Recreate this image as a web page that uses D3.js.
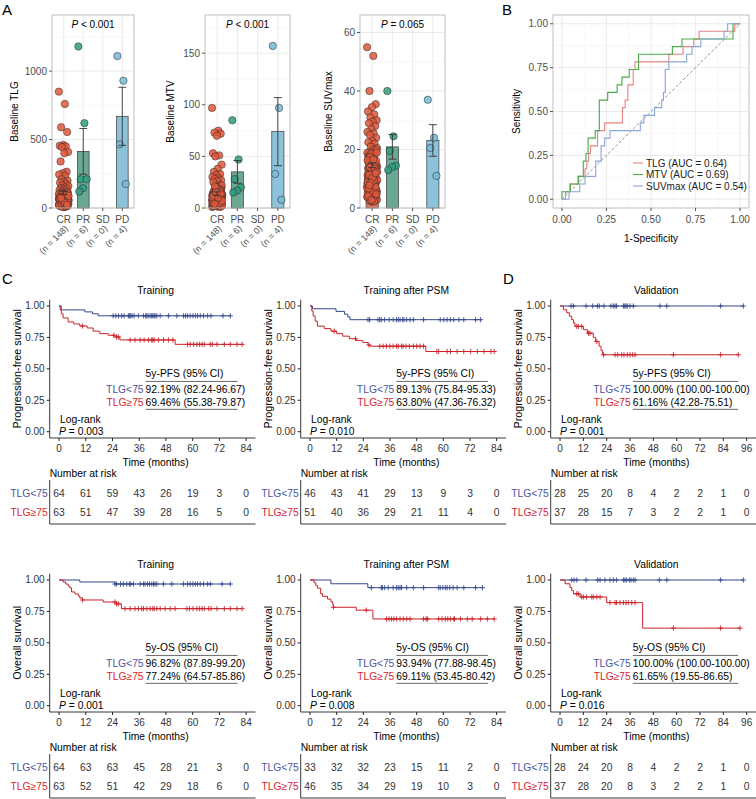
<!DOCTYPE html>
<html lang="en">
<head>
<meta charset="UTF-8">
<style>
  body { margin: 0; background: #fff; }
  svg { display: block; font-family: "Liberation Sans", Arial, sans-serif; }
</style>
<script src="https://d3js.org/d3.v7.min.js"></script>
</head>
<body>
<svg id="fig" width="756" height="799"></svg>
<script>
// ---------- Panel A data ----------
const groups = ["CR", "PR", "SD", "PD"];
const groupN = [148, 6, 0, 4];

const tlgCR = [850, 760, 590, 555, 460, 455, 450, 445, 410, 400, 340, 265, 255, 245, 235, 210, 200, 190, 185, 175,
  165, 160, 150, 145, 140, 135, 130, 125, 120, 115,
  12, 45, 88, 23, 67, 104, 31, 56, 79, 18, 95, 41, 62, 8, 73, 36, 110, 27, 54, 86,
  15, 69, 48, 99, 33, 58, 21, 77, 44, 102, 64, 29, 91, 52, 11, 83, 38, 71, 25, 60,
  107, 47, 19, 75, 35, 93, 57, 14, 81, 42, 66, 98, 28, 53, 85, 9, 70, 40, 62, 101,
  22, 78, 46, 90, 34, 59, 17, 84, 50, 68, 105, 37, 63, 26, 88, 44, 72, 13, 97, 55,
  30, 80, 49, 108, 24, 65, 39, 92, 58, 16, 74, 43, 96, 20, 61, 87, 32, 51, 76, 10,
  100, 48, 27, 82, 57, 6, 69, 94, 35, 63, 45, 79, 18, 55, 89, 38, 72, 24];
const tlgPR = [1180, 620, 210, 210, 145, 120];
const tlgPD = [1110, 930, 465, 175];
const tlgMean = [110, 414, null, 670];
const tlgSE = [12, 167, null, 212];

const mtvCR = [97, 75, 73, 72, 70, 53, 51, 50, 42, 38, 35, 33, 32, 30, 29, 28, 27, 26, 25,
  3, 8, 12, 5, 17, 9, 2, 14, 6, 11, 20, 7, 4, 15, 10, 1, 13, 8, 18, 5,
  9, 22, 6, 11, 3, 16, 7, 12, 4, 19, 10, 2, 14, 8, 21, 5, 13, 9, 6, 17,
  4, 11, 7, 15, 3, 18, 9, 12, 5, 8, 16, 6, 10, 2, 13, 7, 20, 4, 11, 9,
  5, 14, 8, 19, 3, 10, 6, 12, 1, 15, 7, 11, 4, 17, 9, 2, 13, 6, 22, 8,
  12, 5, 16, 3, 10, 7, 14, 9, 4, 18, 6, 13, 8, 2, 11, 20, 5, 15, 7, 10,
  3, 9, 17, 6, 12, 4, 14, 8, 19, 5, 11, 7, 2, 16, 9, 13, 4, 10, 6, 21,
  8, 3, 12, 5, 15, 7, 10, 4, 14];
const mtvPR = [85, 47, 28, 20, 17, 15];
const mtvPD = [157, 97, 33, 8];
const mtvMean = [14, 35, null, 74];
const mtvSE = [1.6, 11, null, 33];

const suvCR = [55, 52, 40, 35.5, 34.5, 33, 32, 31, 30, 29.5, 29, 28, 27, 26, 25.5, 25, 24, 23, 22.5, 22, 21, 20.5, 20,
  3.5, 8.2, 12.4, 5.1, 17.3, 9.6, 2.8, 14.7, 6.3, 11.2, 18.5, 7.4, 4.6, 15.2, 10.1, 2.2, 13.5, 8.9, 16.8, 5.7,
  9.3, 19.1, 6.6, 11.8, 3.9, 16.2, 7.7, 12.9, 4.3, 18.2, 10.6, 2.5, 14.1, 8.4, 17.9, 5.4, 13.2, 9.8, 6.9, 15.8,
  4.8, 11.5, 7.1, 15.5, 3.2, 18.8, 9.1, 12.6, 5.9, 8.7, 16.5, 6.2, 10.4, 2.9, 13.8, 7.5, 19.4, 4.1, 11.1, 9.5,
  5.3, 14.4, 8.1, 17.6, 3.6, 10.9, 6.8, 12.2, 2.6, 15.1, 7.9, 11.7, 4.4, 16.9, 9.2, 3.1, 13.6, 6.5, 18.6, 8.5,
  12.8, 5.6, 16.1, 3.4, 10.2, 7.2, 14.9, 9.7, 4.9, 17.2, 6.1, 13.1, 8.8, 2.3, 11.4, 19.8, 5.2, 15.4, 7.6, 10.7,
  3.8, 9.9, 17.4, 6.4, 12.1, 4.2, 14.3, 8.3, 18.9, 5.8, 11.3, 7.3, 2.7, 16.3, 9.4, 13.9, 4.7, 10.3, 6.7,
  13.4, 8.6, 12.3, 16.6, 7.8, 11.9];
const suvPR = [40, 24.5, 19.5, 14.5, 14, 13];
const suvPD = [37, 24, 20.5, 11];
const suvMean = [14.6, 20.9, null, 23.1];
const suvSE = [0.8, 4.2, null, 5.4];

// ---------- Panel B data (1-specificity, sensitivity) ----------
const rocTLG = [[0,0],[0.02,0],[0.02,0.043],[0.045,0.043],[0.045,0.087],[0.09,0.087],[0.09,0.13],[0.13,0.13],[0.13,0.174],
  [0.14,0.174],[0.14,0.217],[0.15,0.217],[0.15,0.261],[0.16,0.261],[0.16,0.304],[0.2,0.304],[0.2,0.391],[0.24,0.391],
  [0.24,0.435],[0.34,0.435],[0.34,0.522],[0.355,0.522],[0.355,0.565],[0.37,0.565],[0.37,0.652],[0.4,0.652],[0.4,0.739],
  [0.41,0.739],[0.41,0.783],[0.6,0.783],[0.6,0.826],[0.68,0.826],[0.68,0.87],[0.74,0.87],[0.74,0.913],[0.77,0.913],
  [0.77,0.957],[0.97,0.957],[0.97,1],[1,1]];
const rocMTV = [[0,0],[0,0.043],[0.047,0.043],[0.047,0.087],[0.094,0.087],[0.094,0.13],[0.12,0.13],[0.12,0.217],[0.135,0.217],
  [0.135,0.261],[0.147,0.261],[0.147,0.348],[0.187,0.348],[0.187,0.391],[0.21,0.391],[0.21,0.565],[0.257,0.565],[0.257,0.609],
  [0.31,0.609],[0.31,0.652],[0.337,0.652],[0.337,0.696],[0.378,0.696],[0.378,0.739],[0.43,0.739],[0.43,0.826],[0.62,0.826],
  [0.62,0.87],[0.674,0.87],[0.674,0.913],[0.96,0.913],[0.96,1],[1,1]];
const rocSUV = [[0,0],[0.04,0],[0.04,0.043],[0.1,0.043],[0.1,0.087],[0.13,0.087],[0.13,0.13],[0.19,0.13],[0.19,0.217],
  [0.22,0.217],[0.22,0.304],[0.24,0.304],[0.24,0.348],[0.27,0.348],[0.27,0.391],[0.44,0.391],[0.44,0.435],[0.46,0.435],
  [0.46,0.478],[0.52,0.478],[0.52,0.522],[0.56,0.522],[0.56,0.565],[0.57,0.565],[0.57,0.609],[0.58,0.609],[0.58,0.739],
  [0.6,0.739],[0.6,0.783],[0.7,0.783],[0.7,0.826],[0.73,0.826],[0.73,0.87],[0.78,0.87],[0.78,0.913],[0.91,0.913],
  [0.91,0.957],[0.93,0.957],[0.93,1],[1,1]];
const rocNames = ["TLG (AUC = 0.64)", "MTV (AUC = 0.69)", "SUVmax (AUC = 0.54)"];

// ---------- Panels C/D data: steps are [month, survival], censor marks in months ----------
const pfsTrainLowSteps = [[1, 0.969], [11.6, 0.953], [15, 0.938], [17.6, 0.922]];
const pfsTrainLowCensor = [24.3, 25.5, 26.7, 28.1, 29.2, 31.1, 31.6, 32.2, 32.8, 33.7, 35.6, 37.9, 38.9, 39.4, 40.0, 40.9, 41.6,
  42.1, 42.7, 43.1, 43.9, 45.4, 49.1, 52.9, 55.9, 56.8, 57.7, 58.9, 60.1, 61.2, 62.2, 63.4, 64.9, 66.7, 68.2, 73.6, 76.9];
const pfsTrainHighSteps = [[0.5, 0.968], [1, 0.937], [1.8, 0.905], [4.1, 0.873], [6.6, 0.857], [9.3, 0.841], [12.6, 0.825],
  [15.3, 0.80], [18.3, 0.78], [22.1, 0.767], [25.1, 0.754], [27.3, 0.73], [52.1, 0.695]];
const pfsTrainHighCensor = [10.5, 24.6, 25.8, 26.6, 31.9, 34.1, 36.4, 38.2, 40.1, 41.6, 42.1, 42.7, 44.6, 46.9, 49.1, 51.1,
  57.7, 58.9, 60.4, 61.9, 63.1, 64.2, 65.2, 67.9, 68.8, 70.9, 74.2, 76.9, 79.9, 82.2];

const pfsPsmLowSteps = [[1.1, 0.978], [11.7, 0.957], [15.5, 0.935], [17, 0.913], [18, 0.891]];
const pfsPsmLowCensor = [26.1, 26.8, 30.6, 31.4, 32.1, 33.6, 35.6, 37.4, 38.9, 39.7, 40.5, 41.7, 42.3, 43.5, 45, 46.5, 51.1,
  58.6, 60.2, 61.7, 63.2, 64.7, 67, 69.2, 74.5, 76.8];
const pfsPsmHighSteps = [[0.8, 0.96], [1.4, 0.92], [2.3, 0.88], [3.3, 0.84], [6.4, 0.82], [9.4, 0.80], [12, 0.78], [14.7, 0.76],
  [17.7, 0.74], [20.8, 0.725], [23.8, 0.71], [26.1, 0.69], [27.1, 0.68], [52.1, 0.638]];
const pfsPsmHighCensor = [10.9, 20.5, 26.5, 31.4, 32.9, 34.4, 35.9, 37.4, 38.9, 39.7, 41.2, 41.9, 43.2, 44.7, 46.5, 48, 49.5,
  51.1, 57.1, 57.9, 61.7, 63.2, 66.2, 69.2, 72.3, 75.3, 78.3, 81.4, 82.9];

const pfsValLowSteps = [];
const pfsValLowCensor = [5.7, 6.9, 13.4, 16.8, 19.2, 20.2, 22.6, 26.2, 27.4, 28.3, 29.1, 32.6, 33.3, 33.9, 34.6, 36, 37.7,
  51.4, 54.9, 82.6, 94.3];
const pfsValHighSteps = [[1.7, 0.97], [3.4, 0.946], [4.8, 0.919], [6, 0.892], [6.9, 0.865], [7.7, 0.838], [12, 0.811],
  [14.1, 0.784], [17.1, 0.75], [18.3, 0.717], [20.1, 0.68], [21.1, 0.645], [21.9, 0.612]];
const pfsValHighCensor = [8.6, 9.4, 11.1, 14.6, 15.4, 18.9, 22.4, 28.3, 29.7, 31.7, 32.9, 34.6, 36, 37.4, 38.6, 58.3, 82.6, 91.7];

const osTrainLowSteps = [[9.3, 0.984], [25, 0.968]];
const osTrainLowCensor = [25.1, 25.8, 27.6, 28.9, 30.4, 31.6, 32.2, 33.4, 36.4, 37.9, 38.6, 39.7, 40.6, 41.6, 42.4, 43.1, 43.9,
  46.9, 50.6, 55.9, 57.7, 58.9, 60.1, 61.2, 62.2, 63.4, 64.9, 66.7, 67.9, 73.2, 76.9];
const osTrainHighSteps = [[1.8, 0.984], [3, 0.968], [4.1, 0.952], [4.8, 0.937], [5.6, 0.905], [7.1, 0.889], [8.6, 0.873],
  [9.3, 0.857], [10.5, 0.841], [19.8, 0.825], [25.8, 0.81], [28, 0.772]];
const osTrainHighCensor = [10.5, 25.1, 25.8, 26.6, 29.6, 31.9, 34.1, 35.6, 37.1, 37.9, 39.4, 40.9, 42.1, 42.7, 43.9, 45.4, 47.6,
  49.9, 52.1, 57.4, 58.6, 60.1, 61.9, 63.1, 64.2, 65.2, 67.2, 68.2, 70.9, 74.2, 76.9, 79.9, 82.2];

const osPsmLowSteps = [[9.4, 0.97], [26, 0.939]];
const osPsmLowCensor = [27.6, 32.1, 32.6, 33.6, 35.2, 37.4, 38.9, 39.7, 40.5, 41.2, 43.5, 46.5, 51.1, 57.9, 58.6, 59.8, 60.9,
  61.7, 62.9, 64.4, 66.2, 69.2, 74.5, 77.6];
const osPsmHighSteps = [[1.8, 0.978], [2.6, 0.957], [3.3, 0.935], [4.8, 0.891], [5.6, 0.87], [7.9, 0.848], [9.4, 0.826],
  [10.2, 0.804], [10.5, 0.783], [20.8, 0.76], [28.3, 0.69]];
const osPsmHighCensor = [10.5, 25.3, 34.4, 35.6, 36.7, 37.7, 38.9, 40.5, 42, 43.5, 45, 51.1, 52.3, 52.9, 57.9, 59.4, 60.9, 62,
  63.2, 64.7, 65, 67.7, 70.8, 73, 76.8, 79.8, 82.9];

const osValLowSteps = [];
const osValLowCensor = [6, 7.2, 8.6, 13.4, 19.4, 20.6, 23.1, 25.7, 27.4, 29.1, 32.6, 33.4, 34.3, 35.7, 36.5, 37.7, 38.6, 51.1,
  54.9, 82.6, 94.3];
const osValHighSteps = [[2.6, 0.97], [5.1, 0.94], [6, 0.915], [6.9, 0.89], [10.3, 0.865], [24, 0.82], [42.5, 0.617]];
const osValHighCensor = [8.6, 9.4, 11.1, 12, 13.7, 16.3, 17.1, 18.9, 20.6, 25.7, 28.3, 29.1, 30.9, 32.6, 33.9, 35.1, 36.9, 38.6,
  58.3, 82.6, 92.6];

// number at risk, every 12 months
const pfsTrainRisk = [[64, 61, 59, 43, 26, 19, 3, 0], [63, 51, 47, 39, 28, 16, 5, 0]];
const pfsPsmRisk = [[46, 43, 41, 29, 13, 9, 3, 0], [51, 40, 36, 29, 21, 11, 4, 0]];
const pfsValRisk = [[28, 25, 20, 8, 4, 2, 2, 1, 0], [37, 28, 15, 7, 3, 2, 2, 1, 0]];
const osTrainRisk = [[64, 63, 63, 45, 28, 21, 3, 0], [63, 52, 51, 42, 29, 18, 6, 0]];
const osPsmRisk = [[33, 32, 32, 23, 15, 11, 2, 0], [46, 35, 34, 29, 19, 10, 3, 0]];
const osValRisk = [[28, 24, 20, 8, 4, 2, 2, 1, 0], [37, 28, 20, 8, 3, 2, 2, 1, 0]];

// 5-year estimates and log-rank p
const pfsTrainEst = ["92.19% (82.24-96.67)", "69.46% (55.38-79.87)"];
const pfsPsmEst = ["89.13% (75.84-95.33)", "63.80% (47.36-76.32)"];
const pfsValEst = ["100.00% (100.00-100.00)", "61.16% (42.28-75.51)"];
const osTrainEst = ["96.82% (87.89-99.20)", "77.24% (64.57-85.86)"];
const osPsmEst = ["93.94% (77.88-98.45)", "69.11% (53.45-80.42)"];
const osValEst = ["100.00% (100.00-100.00)", "61.65% (19.55-86.65)"];
const groupLabels = ["TLG<75", "TLG\u226575"];

// ---------- drawing ----------
const svg = d3.select("#fig");
svg.append("rect").attr("width", 756).attr("height", 799).attr("fill", "#fff");

const barFill = ["#d8664f", "#5b9f88", "#999", "#80bcd6"];
const dotFill = ["#e2573a", "#2f9e80", "#999", "#74b9d6"];

function panelLetter(t, x, y) {
  svg.append("text").attr("x", x).attr("y", y).attr("font-size", 15).text(t);
}

function barPanel(cfg) {
  const g = svg.append("g");
  const top = 15, bottom = 208;
  const x = d3.scalePoint().domain(groups).range([cfg.x0, cfg.x1]).padding(0.6);
  const y = d3.scaleLinear().domain([0, cfg.yMax]).range([bottom, top]);
  const step = x.step();

  const minor = d3.range(cfg.tick / 2, cfg.yMax, cfg.tick);
  g.selectAll(null).data(minor).join("line")
    .attr("x1", cfg.x0).attr("x2", cfg.x1).attr("y1", d => y(d)).attr("y2", d => y(d))
    .attr("stroke", "#f0f0f0").attr("stroke-width", 0.5);
  g.selectAll(null).data(cfg.ticks).join("line")
    .attr("x1", cfg.x0).attr("x2", cfg.x1).attr("y1", d => y(d)).attr("y2", d => y(d))
    .attr("stroke", "#e6e6e6").attr("stroke-width", 0.8);
  g.selectAll(null).data(groups).join("line")
    .attr("x1", d => x(d)).attr("x2", d => x(d)).attr("y1", top).attr("y2", bottom)
    .attr("stroke", "#e6e6e6").attr("stroke-width", 0.8);

  // bars
  groups.forEach((grp, i) => {
    if (cfg.mean[i] == null) return;
    g.append("rect")
      .attr("x", x(grp) - step * 0.3).attr("width", step * 0.6)
      .attr("y", y(cfg.mean[i])).attr("height", y(0) - y(cfg.mean[i]))
      .attr("fill", barFill[i]).attr("fill-opacity", 0.9)
      .attr("stroke", "#3a3a3a").attr("stroke-width", 0.7);
  });

  // points, spread with a fixed golden-ratio jitter
  cfg.points.forEach((vals, i) => {
    const grp = groups[i];
    g.selectAll(null).data(vals).join("circle")
      .attr("cx", (d, k) => x(grp) + (((k * 0.618034) % 1) - 0.5) * step * 0.5)
      .attr("cy", d => y(d))
      .attr("r", 3.7)
      .attr("fill", dotFill[i]).attr("fill-opacity", 0.85)
      .attr("stroke", "#2a2a2a").attr("stroke-width", 0.6).attr("stroke-opacity", 0.85);
  });

  // error bars (mean +/- SE)
  groups.forEach((grp, i) => {
    if (cfg.mean[i] == null) return;
    const lo = y(cfg.mean[i] - cfg.se[i]), hi = y(cfg.mean[i] + cfg.se[i]), cx = x(grp), w = step * 0.2;
    g.append("path")
      .attr("d", `M${cx},${lo}V${hi}M${cx - w},${lo}H${cx + w}M${cx - w},${hi}H${cx + w}`)
      .attr("stroke", "#333").attr("stroke-width", 0.9).attr("fill", "none");
  });

  g.append("rect").attr("x", cfg.x0).attr("y", top).attr("width", cfg.x1 - cfg.x0).attr("height", bottom - top)
    .attr("fill", "none").attr("stroke", "#b8b8b8").attr("stroke-width", 0.9);

  // y axis
  g.selectAll(null).data(cfg.ticks).join("line")
    .attr("x1", cfg.x0 - 3).attr("x2", cfg.x0).attr("y1", d => y(d)).attr("y2", d => y(d)).attr("stroke", "#555");
  g.selectAll(null).data(cfg.ticks).join("text")
    .attr("x", cfg.x0 - 5).attr("y", d => y(d)).attr("dy", "0.35em")
    .attr("text-anchor", "end").attr("font-size", 10).attr("fill", "#4d4d4d").text(d => d);
  g.append("text").attr("transform", `translate(${cfg.titleX},${(top + bottom) / 2}) rotate(-90)`)
    .attr("text-anchor", "middle").attr("font-size", 10).text(cfg.title);

  // x axis
  g.selectAll(null).data(groups).join("line")
    .attr("x1", d => x(d)).attr("x2", d => x(d)).attr("y1", bottom).attr("y2", bottom + 3).attr("stroke", "#555");
  g.selectAll(null).data(groups).join("text")
    .attr("x", d => x(d)).attr("y", 223).attr("text-anchor", "middle")
    .attr("font-size", 10).attr("fill", "#4d4d4d").text(d => d);
  g.selectAll(null).data(groups).join("text")
    .attr("transform", d => `translate(${x(d) + 5},${229}) rotate(-45)`)
    .attr("text-anchor", "end").attr("font-size", 9).attr("fill", "#4d4d4d")
    .text((d, i) => `(n = ${groupN[i]})`);

  const pt = g.append("text").attr("x", (cfg.x0 + cfg.x1) / 2).attr("y", 28)
    .attr("text-anchor", "middle").attr("font-size", 10);
  pt.append("tspan").attr("font-style", "italic").text("P");
  pt.append("tspan").text(cfg.p);
}

barPanel({ x0: 52, x1: 134, yMax: 1410, tick: 500, ticks: [0, 500, 1000], title: "Baseline TLG", titleX: 18,
  points: [tlgCR, tlgPR, [], tlgPD], mean: tlgMean, se: tlgSE, p: " < 0.001" });
barPanel({ x0: 205, x1: 290, yMax: 187, tick: 50, ticks: [0, 50, 100, 150], title: "Baseline MTV", titleX: 174,
  points: [mtvCR, mtvPR, [], mtvPD], mean: mtvMean, se: mtvSE, p: " < 0.001" });
barPanel({ x0: 360, x1: 445, yMax: 66, tick: 20, ticks: [0, 20, 40, 60], title: "Baseline SUVmax", titleX: 332,
  points: [suvCR, suvPR, [], suvPD], mean: suvMean, se: suvSE, p: " = 0.065" });

// ---------- Panel B ----------
(function rocPanel() {
  const g = svg.append("g");
  const x0 = 553, x1 = 749, top = 15, bottom = 208;
  const x = d3.scaleLinear().domain([-0.05, 1.05]).range([x0, x1]);
  const y = d3.scaleLinear().domain([-0.05, 1.05]).range([bottom, top]);
  const ticks = [0, 0.25, 0.5, 0.75, 1];
  const minor = [0.125, 0.375, 0.625, 0.875];
  minor.forEach(v => {
    g.append("line").attr("x1", x0).attr("x2", x1).attr("y1", y(v)).attr("y2", y(v)).attr("stroke", "#f0f0f0").attr("stroke-width", 0.5);
    g.append("line").attr("y1", top).attr("y2", bottom).attr("x1", x(v)).attr("x2", x(v)).attr("stroke", "#f0f0f0").attr("stroke-width", 0.5);
  });
  ticks.forEach(v => {
    g.append("line").attr("x1", x0).attr("x2", x1).attr("y1", y(v)).attr("y2", y(v)).attr("stroke", "#e6e6e6").attr("stroke-width", 0.8);
    g.append("line").attr("y1", top).attr("y2", bottom).attr("x1", x(v)).attr("x2", x(v)).attr("stroke", "#e6e6e6").attr("stroke-width", 0.8);
  });
  g.append("line").attr("x1", x(0)).attr("y1", y(0)).attr("x2", x(1)).attr("y2", y(1))
    .attr("stroke", "#777").attr("stroke-dasharray", "3,2").attr("stroke-width", 0.8);

  const rocColors = ["#e8837f", "#4aa94a", "#8aa6d8"];
  const line = d3.line().x(d => x(d[0])).y(d => y(d[1]));
  [rocTLG, rocMTV, rocSUV].forEach((pts, i) => {
    g.append("path").attr("d", line(pts)).attr("fill", "none").attr("stroke", rocColors[i]).attr("stroke-width", 1.1);
  });

  g.append("rect").attr("x", x0).attr("y", top).attr("width", x1 - x0).attr("height", bottom - top)
    .attr("fill", "none").attr("stroke", "#b8b8b8").attr("stroke-width", 0.9);

  ticks.forEach(v => {
    g.append("line").attr("x1", x0 - 3).attr("x2", x0).attr("y1", y(v)).attr("y2", y(v)).attr("stroke", "#555");
    g.append("text").attr("x", x0 - 5).attr("y", y(v)).attr("dy", "0.35em").attr("text-anchor", "end")
      .attr("font-size", 10).attr("fill", "#4d4d4d").text(v.toFixed(2));
    g.append("line").attr("x1", x(v)).attr("x2", x(v)).attr("y1", bottom).attr("y2", bottom + 3).attr("stroke", "#555");
    g.append("text").attr("x", x(v)).attr("y", 223).attr("text-anchor", "middle")
      .attr("font-size", 10).attr("fill", "#4d4d4d").text(v.toFixed(2));
  });
  g.append("text").attr("transform", `translate(520,${(top + bottom) / 2}) rotate(-90)`)
    .attr("text-anchor", "middle").attr("font-size", 10).text("Sensitivity");
  g.append("text").attr("x", (x0 + x1) / 2).attr("y", 242).attr("text-anchor", "middle")
    .attr("font-size", 10).text("1-Specificity");

  rocNames.forEach((name, i) => {
    const ly = 163 + i * 11.5;
    g.append("line").attr("x1", 633).attr("x2", 643).attr("y1", ly).attr("y2", ly)
      .attr("stroke", rocColors[i]).attr("stroke-width", 1.1);
    g.append("text").attr("x", 646).attr("y", ly).attr("dy", "0.35em").attr("font-size", 10)
      .attr("fill", "#222").text(name);
  });
})();

// ---------- Panels C and D ----------
const lowColor = "#34478c", highColor = "#cc2229";
const lowText = "#4b55a0", highText = "#d7262e";
const colLeft = [49.7, 300.7, 550.7], colRight = [255.5, 506, 756], textFrac = [0.466, 0.466, 0.40];

const kmPanels = [
  { row: 0, col: 0, title: "Training", ylab: "Progression-free survival", endpoint: "5y-PFS (95% CI)", maxT: 84, p: "0.003",
    curves: [[pfsTrainLowSteps, pfsTrainLowCensor], [pfsTrainHighSteps, pfsTrainHighCensor]], est: pfsTrainEst, risk: pfsTrainRisk },
  { row: 0, col: 1, title: "Training after PSM", ylab: "Progression-free survival", endpoint: "5y-PFS (95% CI)", maxT: 84, p: "0.010",
    curves: [[pfsPsmLowSteps, pfsPsmLowCensor], [pfsPsmHighSteps, pfsPsmHighCensor]], est: pfsPsmEst, risk: pfsPsmRisk },
  { row: 0, col: 2, title: "Validation", ylab: "Progression-free survival", endpoint: "5y-PFS (95% CI)", maxT: 96, p: "0.001",
    curves: [[pfsValLowSteps, pfsValLowCensor], [pfsValHighSteps, pfsValHighCensor]], est: pfsValEst, risk: pfsValRisk },
  { row: 1, col: 0, title: "Training", ylab: "Overall survival", endpoint: "5y-OS (95% CI)", maxT: 84, p: "0.001",
    curves: [[osTrainLowSteps, osTrainLowCensor], [osTrainHighSteps, osTrainHighCensor]], est: osTrainEst, risk: osTrainRisk },
  { row: 1, col: 1, title: "Training after PSM", ylab: "Overall survival", endpoint: "5y-OS (95% CI)", maxT: 84, p: "0.008",
    curves: [[osPsmLowSteps, osPsmLowCensor], [osPsmHighSteps, osPsmHighCensor]], est: osPsmEst, risk: osPsmRisk },
  { row: 1, col: 2, title: "Validation", ylab: "Overall survival", endpoint: "5y-OS (95% CI)", maxT: 96, p: "0.016",
    curves: [[osValLowSteps, osValLowCensor], [osValHighSteps, osValHighCensor]], est: osValEst, risk: osValRisk }
];

function survAt(steps, t) {
  let s = 1;
  steps.forEach(d => { if (d[0] <= t) s = d[1]; });
  return s;
}

function kmPanel(p) {
  const g = svg.append("g");
  const off = p.row * 274;
  const left = colLeft[p.col], right = colRight[p.col];
  const x = d3.scaleLinear().domain([-0.05 * p.maxT, 1.05 * p.maxT]).range([left, right]);
  const y = d3.scaleLinear().domain([-0.05, 1.05]).range([438 + off, 299.7 + off]);
  const months = d3.range(0, p.maxT + 1, 12);
  const fs = 10.3;

  g.append("text").attr("x", (left + right) / 2 + 3).attr("y", 293.5 + off).attr("text-anchor", "middle")
    .attr("font-size", fs).text(p.title);

  // curves
  const line = d3.line().x(d => x(d[0])).y(d => y(d[1])).curve(d3.curveStepAfter);
  p.curves.forEach((c, i) => {
    const [steps, censor] = c;
    const color = i === 0 ? lowColor : highColor;
    const tEnd = d3.max(censor);
    const pts = [[0, 1]].concat(steps, [[tEnd, survAt(steps, tEnd)]]);
    g.append("path").attr("d", line(pts)).attr("fill", "none").attr("stroke", color).attr("stroke-width", 1);
    g.selectAll(null).data(censor).join("path")
      .attr("d", t => { const cx = x(t), cy = y(survAt(steps, t)); return `M${cx - 2.6},${cy}H${cx + 2.6}M${cx},${cy - 2.6}V${cy + 2.6}`; })
      .attr("stroke", color).attr("stroke-width", 0.9);
  });

  // axes
  g.append("path").attr("d", `M${left},${y(1.05)}V${y(-0.05)}H${right}`).attr("fill", "none").attr("stroke", "#222").attr("stroke-width", 0.9);
  [0, 0.25, 0.5, 0.75, 1].forEach(v => {
    g.append("line").attr("x1", left - 3).attr("x2", left).attr("y1", y(v)).attr("y2", y(v)).attr("stroke", "#222");
    g.append("text").attr("x", left - 5).attr("y", y(v)).attr("dy", "0.35em").attr("text-anchor", "end")
      .attr("font-size", 10).attr("fill", "#333").text(v.toFixed(2));
  });
  months.forEach(m => {
    g.append("line").attr("x1", x(m)).attr("x2", x(m)).attr("y1", y(-0.05)).attr("y2", y(-0.05) + 3).attr("stroke", "#222");
    g.append("text").attr("x", x(m)).attr("y", 452 + off).attr("text-anchor", "middle")
      .attr("font-size", 10).attr("fill", "#333").text(m);
  });
  g.append("text").attr("x", (left + right) / 2 + 3).attr("y", 466 + off).attr("text-anchor", "middle")
    .attr("font-size", fs).text("Time (months)");
  g.append("text").attr("transform", `translate(${left - 29},${y(0.5)}) rotate(-90)`)
    .attr("text-anchor", "middle").attr("font-size", fs + 0.5).text(p.ylab);

  // 5-year estimate table
  const tx = left + textFrac[p.col] * (right - left), tEndX = left + 0.913 * (right - left);
  g.append("text").attr("x", tx).attr("y", y(0.466)).attr("dy", "0.35em").attr("font-size", fs).text(p.endpoint);
  [0.40, 0.178].forEach(v => {
    g.append("line").attr("x1", tx).attr("x2", tEndX).attr("y1", y(v)).attr("y2", y(v)).attr("stroke", "#444").attr("stroke-width", 0.8);
  });
  [0.338, 0.237].forEach((v, i) => {
    g.append("text").attr("x", tx - 2).attr("y", y(v)).attr("dy", "0.35em").attr("text-anchor", "end")
      .attr("font-size", fs).attr("fill", i === 0 ? lowText : highText).text(groupLabels[i]);
    g.append("text").attr("x", tx).attr("y", y(v)).attr("dy", "0.35em").attr("font-size", fs).text(p.est[i]);
  });
  g.append("text").attr("x", x(0) + 1).attr("y", y(0.10)).attr("dy", "0.35em").attr("font-size", fs).text("Log-rank");
  const pt = g.append("text").attr("x", x(0)).attr("y", y(0.005)).attr("dy", "0.35em").attr("font-size", fs);
  pt.append("tspan").attr("font-style", "italic").text("P");
  pt.append("tspan").text(" = " + p.p);

  // number at risk
  g.append("text").attr("x", left).attr("y", 473 + off).attr("dy", "0.35em").attr("font-size", fs).text("Number at risk");
  g.append("path").attr("d", `M${left},${480 + off}V${524 + off}H${right}`).attr("fill", "none").attr("stroke", "#222").attr("stroke-width", 0.9);
  p.risk.forEach((row, i) => {
    const ry = (i === 0 ? 493 : 512) + off;
    g.append("text").attr("x", left - 2).attr("y", ry).attr("dy", "0.35em").attr("text-anchor", "end")
      .attr("font-size", fs).attr("fill", i === 0 ? lowText : highText).text(groupLabels[i]);
    g.selectAll(null).data(row).join("text")
      .attr("x", (d, k) => x(months[k])).attr("y", ry).attr("dy", "0.35em").attr("text-anchor", "middle")
      .attr("font-size", fs).attr("fill", "#333").text(d => d);
  });
}

kmPanels.forEach(kmPanel);

panelLetter("A", 2, 15);
panelLetter("B", 502, 15);
panelLetter("C", 2, 284);
panelLetter("D", 503, 284);
</script>
</body>
</html>
